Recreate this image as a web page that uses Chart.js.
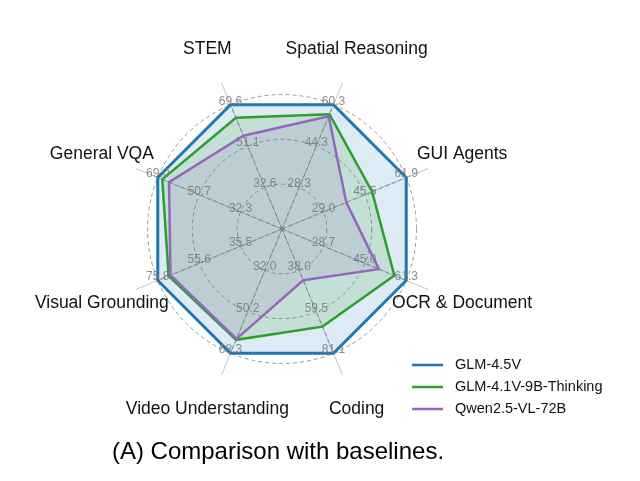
<!DOCTYPE html>
<html>
<head>
<meta charset="utf-8">
<script src="https://cdn.jsdelivr.net/npm/chart.js@4.4.0/dist/chart.umd.min.js"></script>
<style>
  html, body { margin: 0; padding: 0; background: #fff; }
  #wrap { width: 640px; height: 481px; }
</style>
</head>
<body>
<div id="wrap"><canvas id="myChart" width="640" height="481"></canvas></div>
<script>
const categories = ['STEM', 'Spatial Reasoning', 'GUI Agents', 'OCR & Document', 'Coding', 'Video Understanding', 'Visual Grounding', 'General VQA'];
const seriesNames = ['GLM-4.5V', 'GLM-4.1V-9B-Thinking', 'Qwen2.5-VL-72B'];
const glm45v = [69.6, 60.3, 61.9, 61.3, 81.1, 68.3, 75.8, 69.0];
const glm41v = [63.8, 56.6, 48.3, 56.6, 67.2, 62.4, 70.5, 67.0];
const qwen = [55.7, 55.8, 38.0, 50.5, 43.0, 62.0, 69.6, 64.0];
// tick labels per axis, inner -> outer ring
const tickLabels = [
  ['32.6', '51.1', '69.6'],
  ['28.3', '44.3', '60.3'],
  ['29.0', '45.5', '61.9'],
  ['28.7', '45.0', '61.3'],
  ['38.0', '59.5', '81.1'],
  ['32.0', '50.2', '68.3'],
  ['35.5', '55.6', '75.8'],
  ['32.3', '50.7', '69.0']
];

// each axis runs from 20% of its max (centre) to its max (outer ring)
const axisFloor = 0.2;
const axisMax = tickLabels.map(t => parseFloat(t[2]));
const norm = arr => arr.map((v, i) => (v / axisMax[i] - axisFloor) / (1 - axisFloor));

const colors = ['#1f77b4', '#2ca02c', '#9467bd'];
const fills = ['rgba(31,119,180,0.15)', 'rgba(44,160,44,0.15)', 'rgba(148,103,189,0.15)'];

const labelFont = '"Liberation Sans", Arial, Helvetica, sans-serif';

const radarExtras = {
  id: 'radarExtras',
  beforeDatasetsDraw(chart) {
    const s = chart.scales.r;
    const ctx = chart.ctx;
    ctx.save();
    ctx.strokeStyle = '#8c8c8c';
    ctx.lineWidth = 1;
    ctx.setLineDash([4, 3]);
    for (let i = 0; i < categories.length; i++) {
      const p = s.getPointPosition(i, s.getDistanceFromCenterForValue(1));
      ctx.beginPath();
      ctx.moveTo(s.xCenter, s.yCenter);
      ctx.lineTo(p.x, p.y);
      ctx.stroke();
    }
    ctx.setLineDash([]);
    ctx.fillStyle = '#8c8c8c';
    ctx.beginPath();
    ctx.arc(s.xCenter, s.yCenter, 2, 0, Math.PI * 2);
    ctx.fill();
    ctx.restore();
  },
  afterDatasetsDraw(chart) {
    const s = chart.scales.r;
    const ctx = chart.ctx;
    ctx.save();
    // per-axis tick labels
    ctx.font = '12px ' + labelFont;
    ctx.fillStyle = 'rgba(120,120,120,0.85)';
    ctx.textAlign = 'center';
    ctx.textBaseline = 'middle';
    tickLabels.forEach((ticks, i) => {
      ticks.forEach((t, k) => {
        const p = s.getPointPosition(i, s.getDistanceFromCenterForValue((k + 1) / 3));
        ctx.fillText(t, p.x, p.y - 3.5);
      });
    });
    // axis names
    ctx.font = '17.5px ' + labelFont;
    ctx.fillStyle = '#111';
    categories.forEach((c, i) => {
      const p = s.getPointPosition(i, s.getDistanceFromCenterForValue(1.45));
      ctx.fillText(c, p.x, p.y);
    });
    ctx.restore();
  },
  afterDraw(chart) {
    const ctx = chart.ctx;
    ctx.save();
    // legend
    ctx.font = '14.5px ' + labelFont;
    ctx.textAlign = 'left';
    ctx.textBaseline = 'middle';
    chart.data.datasets.forEach((ds, i) => {
      const y = 365 + i * 22;
      ctx.strokeStyle = ds.borderColor;
      ctx.lineWidth = 2.5;
      ctx.beginPath();
      ctx.moveTo(412, y);
      ctx.lineTo(443, y);
      ctx.stroke();
      ctx.fillStyle = '#111';
      ctx.fillText(ds.label, 455, y);
    });
    // caption
    ctx.font = '24px ' + labelFont;
    ctx.textAlign = 'center';
    ctx.fillStyle = '#000';
    ctx.fillText('(A) Comparison with baselines.', 278, 452);
    ctx.restore();
  }
};

const ctx = document.getElementById('myChart').getContext('2d');
const myChart = new Chart(ctx, {
  type: 'radar',
  data: {
    labels: categories,
    datasets: [glm45v, glm41v, qwen].map((d, i) => ({
      label: seriesNames[i],
      data: norm(d),
      borderColor: colors[i],
      backgroundColor: fills[i],
      borderWidth: i === 0 ? 3 : 2.5,
      pointRadius: 0,
      fill: true,
      order: 2 - i // later series drawn on top
    }))
  },
  options: {
    responsive: false,
    animation: false,
    devicePixelRatio: 1,
    layout: {
      padding: { left: 124, right: 200, top: 71, bottom: 94 }
    },
    plugins: {
      legend: { display: false },
      tooltip: { enabled: false }
    },
    scales: {
      r: {
        min: 0,
        max: 1.175,
        startAngle: -22.5,
        afterBuildTicks: (scale) => {
          scale.ticks = [0, 1 / 3, 2 / 3, 1].map(v => ({ value: v }));
        },
        ticks: { display: false },
        pointLabels: { display: false },
        grid: { circular: true, color: '#9a9a9a', lineWidth: 1 },
        border: { dash: [4, 3] },
        angleLines: { color: '#c4c4c4', lineWidth: 1 }
      }
    }
  },
  plugins: [radarExtras]
});
</script>
</body>
</html>
